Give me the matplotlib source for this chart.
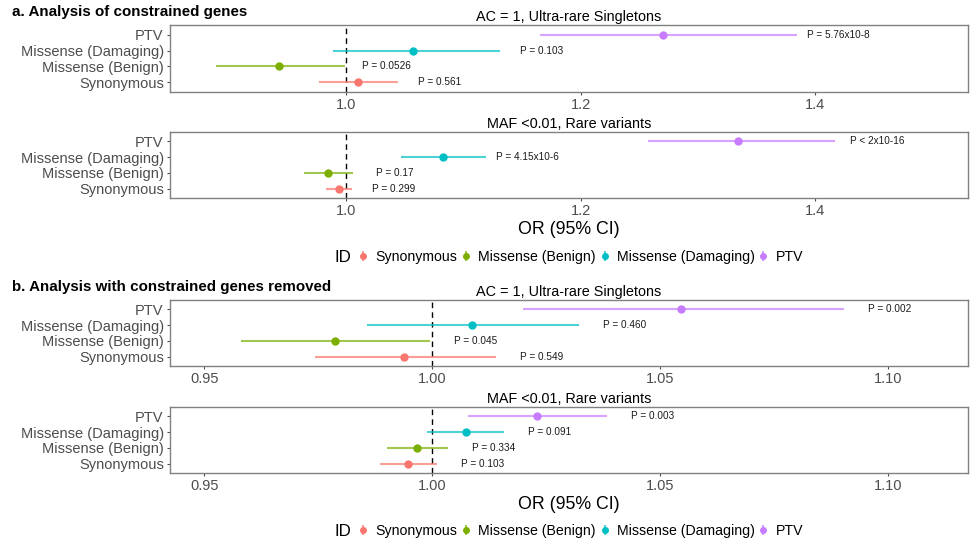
import matplotlib
matplotlib.use('Agg')
import matplotlib.pyplot as plt
from matplotlib.lines import Line2D
from matplotlib.legend_handler import HandlerTuple

plt.rcParams['font.family'] = ['Liberation Sans', 'DejaVu Sans']

categories = ['Synonymous', 'Missense (Benign)', 'Missense (Damaging)', 'PTV']
colors = ['#F8766D', '#7CAE00', '#00BFC4', '#C77CFF']

# a. constrained genes, AC = 1
a_ac1_or = [1.010, 0.943, 1.057, 1.270]
a_ac1_lo = [0.977, 0.889, 0.989, 1.165]
a_ac1_hi = [1.044, 0.999, 1.131, 1.384]
a_ac1_p = ['P = 0.561', 'P = 0.0526', 'P = 0.103', 'P = 5.76x10-8']

# a. constrained genes, MAF < 0.01
a_maf_or = [0.994, 0.985, 1.0825, 1.334]
a_maf_lo = [0.983, 0.964, 1.047, 1.257]
a_maf_hi = [1.005, 1.006, 1.119, 1.417]
a_maf_p = ['P = 0.299', 'P = 0.17', 'P = 4.15x10-6', 'P < 2x10-16']

# b. constrained genes removed, AC = 1
b_ac1_or = [0.9939, 0.9786, 1.0088, 1.0545]
b_ac1_lo = [0.9743, 0.9580, 0.9858, 1.0199]
b_ac1_hi = [1.0140, 0.9995, 1.0322, 1.0903]
b_ac1_p = ['P = 0.549', 'P = 0.045', 'P = 0.460', 'P = 0.002']

# b. constrained genes removed, MAF < 0.01
b_maf_or = [0.9947, 0.9966, 1.0074, 1.0229]
b_maf_lo = [0.9885, 0.9900, 0.9989, 1.0079]
b_maf_hi = [1.0010, 1.0035, 1.0158, 1.0383]
b_maf_p = ['P = 0.103', 'P = 0.334', 'P = 0.091', 'P = 0.003']

a_ticks = [1.0, 1.2, 1.4]
a_ticklabels = ['1.0', '1.2', '1.4']
b_ticks = [0.95, 1.00, 1.05, 1.10]
b_ticklabels = ['0.95', '1.00', '1.05', '1.10']

W, H = 975, 548
fig = plt.figure(figsize=(W / 100, H / 100), dpi=100)


def px_axes(x0, y0, x1, y1):
    return fig.add_axes([x0 / W, 1 - y1 / H, (x1 - x0) / W, (y1 - y0) / H])


def panel(ax, orv, lo, hi, pv, xlim, ticks, ticklabels, title, lab_off):
    ys = list(range(1, len(categories) + 1))
    ax.axvline(1.0, color='black', lw=1.0, ls=(0, (4, 3)), zorder=1)
    for y, o, l, h, p, c in zip(ys, orv, lo, hi, pv, colors):
        ax.plot([l, h], [y, y], color=c, lw=1.5, alpha=0.7, solid_capstyle='butt', zorder=2)
        ax.plot(o, y, 'o', color=c, ms=5, zorder=3)
        ax.annotate(p, (h, y), xytext=(lab_off, 0), textcoords='offset points',
                    ha='center', va='center', fontsize=7.2, color='#1a1a1a')
    ax.set_xlim(*xlim)
    ax.set_ylim(0.4, len(categories) + 0.6)
    ax.set_yticks(ys)
    ax.set_yticklabels(categories)
    ax.set_xticks(ticks)
    ax.set_xticklabels(ticklabels)
    ax.tick_params(axis='both', labelsize=10.5, labelcolor='#4D4D4D', color='#4D4D4D',
                   length=2.5, width=0.8, pad=2)
    for s in ax.spines.values():
        s.set_color('#808080')
        s.set_linewidth(1.0)
    ax.set_title(title, fontsize=10.4, pad=3)


ax1 = px_axes(170, 25, 968, 92)
panel(ax1, a_ac1_or, a_ac1_lo, a_ac1_hi, a_ac1_p, (0.850, 1.530), a_ticks, a_ticklabels,
      'AC = 1, Ultra-rare Singletons', 30)
ax2 = px_axes(170, 132, 968, 198)
panel(ax2, a_maf_or, a_maf_lo, a_maf_hi, a_maf_p, (0.850, 1.530), a_ticks, a_ticklabels,
      'MAF <0.01, Rare variants', 30)
ax2.set_xlabel('OR (95% CI)', fontsize=12.8, labelpad=2)

ax3 = px_axes(170, 300, 968, 366)
panel(ax3, b_ac1_or, b_ac1_lo, b_ac1_hi, b_ac1_p, (0.9425, 1.1175), b_ticks, b_ticklabels,
      'AC = 1, Ultra-rare Singletons', 33)
ax4 = px_axes(170, 407, 968, 473)
panel(ax4, b_maf_or, b_maf_lo, b_maf_hi, b_maf_p, (0.9425, 1.1175), b_ticks, b_ticklabels,
      'MAF <0.01, Rare variants', 33)
ax4.set_xlabel('OR (95% CI)', fontsize=12.8, labelpad=2)

fig.text(12 / W, 1 - 12 / H, 'a. Analysis of constrained genes', fontsize=10.9,
         fontweight='bold', va='center', ha='left')
fig.text(12 / W, 1 - 287 / H, 'b. Analysis with constrained genes removed', fontsize=10.9,
         fontweight='bold', va='center', ha='left')

handles = [(Line2D([], [], marker='|', ms=7, mew=1.5, color=c, ls='none', alpha=0.7),
            Line2D([], [], marker='o', ms=4, color=c, ls='none')) for c in colors]

for ly in (257, 531):
    fig.text(335 / W, 1 - ly / H, 'ID', fontsize=12.2, va='center', ha='left')
    leg = fig.legend(handles, categories, loc='center left',
                     bbox_to_anchor=(359 / W, 1 - ly / H), ncol=4, frameon=False,
                     handler_map={tuple: HandlerTuple(ndivide=1, pad=0)},
                     handlelength=0.6, handletextpad=0.55, columnspacing=0.33,
                     fontsize=10.2, borderpad=0, borderaxespad=0)

fig.savefig('out.png', dpi=100)
